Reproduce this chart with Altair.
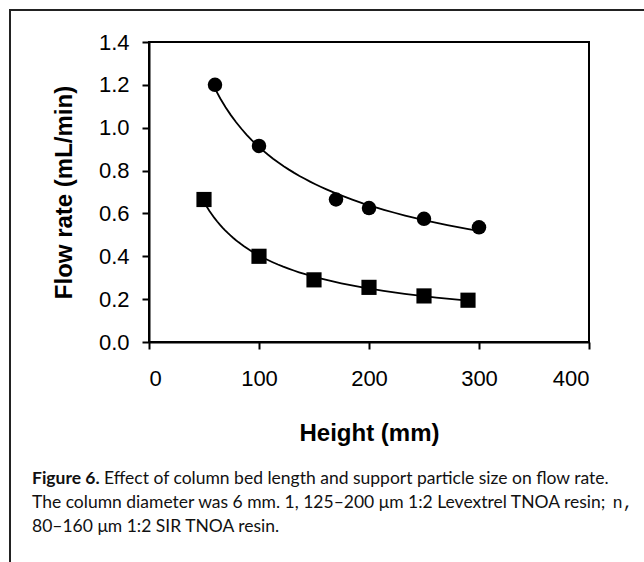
import altair as alt
import pandas as pd

# ---- data ----
heights_circle = [60, 100, 170, 200, 250, 300]
flow_circle = [1.2, 0.915, 0.665, 0.625, 0.575, 0.535]
heights_square = [50, 100, 150, 200, 250, 290]
flow_square = [0.665, 0.40, 0.29, 0.255, 0.215, 0.195]
series_names = ["125–200 μm Levextrel TNOA", "80–160 μm SIR TNOA"]
x_ticks = [0, 100, 200, 300, 400]
y_ticks = [0.0, 0.2, 0.4, 0.6, 0.8, 1.0, 1.2, 1.4]

x_title = "Height (mm)"
y_title = "Flow rate (mL/min)"
caption_bold = "Figure 6."
caption_line1 = "Effect of column bed length and support particle size on flow rate."
caption_line2 = "The column diameter was 6 mm. 1, 125–200 μm 1:2 Levextrel TNOA resin;"
caption_line2_sym = "n,"
caption_line3 = "80–160 μm 1:2 SIR TNOA resin."

df = pd.DataFrame({
    "height": heights_circle + heights_square,
    "flow": flow_circle + flow_square,
    "series": [series_names[0]] * len(heights_circle) + [series_names[1]] * len(heights_square),
})

W, H = 440, 300
CAPFONT = "Lato"
CAPSIZE = 17.5

x_enc = alt.X("height:Q", scale=alt.Scale(domain=[0, 400], nice=False, zero=True),
              axis=alt.Axis(values=x_ticks, format="d", title=x_title,
                            labelPadding=19, titlePadding=32))
y_enc = alt.Y("flow:Q", scale=alt.Scale(domain=[0, 1.4], nice=False),
              axis=alt.Axis(values=y_ticks, format=".1f", title=y_title,
                            labelPadding=13, titlePadding=22))

points = alt.Chart(df).mark_point(filled=True, opacity=1, color="black").encode(
    x=x_enc, y=y_enc,
    shape=alt.Shape("series:N", scale=alt.Scale(domain=series_names, range=["circle", "square"]), legend=None),
    size=alt.Size("series:N", scale=alt.Scale(domain=series_names, range=[210, 230]), legend=None),
)

curves = alt.Chart(df).transform_regression(
    "height", "flow", groupby=["series"], method="pow"
).mark_line(color="black", strokeWidth=1.8).encode(
    x="height:Q", y="flow:Q", detail="series:N"
)

one = pd.DataFrame({"k": [0]})
border = alt.Chart(one).mark_rect(fill=None, stroke="#222", strokeWidth=2).encode(
    x=alt.value(-139), y=alt.value(-32), x2=alt.value(W + 80), y2=alt.value(H + 260)
)
frame = alt.Chart(one).mark_rect(fill=None, stroke="black", strokeWidth=2).encode(
    x=alt.value(0), y=alt.value(0), x2=alt.value(W), y2=alt.value(H)
)

def cap(text, x, y, font=CAPFONT, weight="normal", align="left", size=CAPSIZE):
    return alt.Chart(one).mark_text(
        text=text, font=font, fontWeight=weight, fontSize=size, align=align,
        baseline="middle", color="#111"
    ).encode(x=alt.value(x), y=alt.value(y))

captions = (
    cap(caption_bold, -117, 437, weight="bold")
    + cap(caption_line1, -45, 437)
    + cap(caption_line2, -117, 461)
    + cap(caption_line2_sym, 484, 461, font="Liberation Mono", align="right", size=17)
    + cap(caption_line3, -117, 485)
)

chart = alt.layer(border, frame, curves, points, captions).properties(
    width=W, height=H,
    background="white",
    autosize=alt.AutoSizeParams(type="none"),
    padding={"left": 149, "top": 42, "right": 55, "bottom": 220},
).configure_axis(
    labelFont="Liberation Sans", labelFontSize=22, labelColor="black",
    titleFont="Liberation Sans", titleFontSize=24, titleFontWeight="bold", titleColor="black",
    domainColor="black", domainWidth=2, tickColor="black", tickWidth=2, tickSize=7,
    grid=False,
).configure_view(stroke="black", strokeWidth=2)

chart.save("out.html", embed_options={"renderer": "svg", "actions": False})
